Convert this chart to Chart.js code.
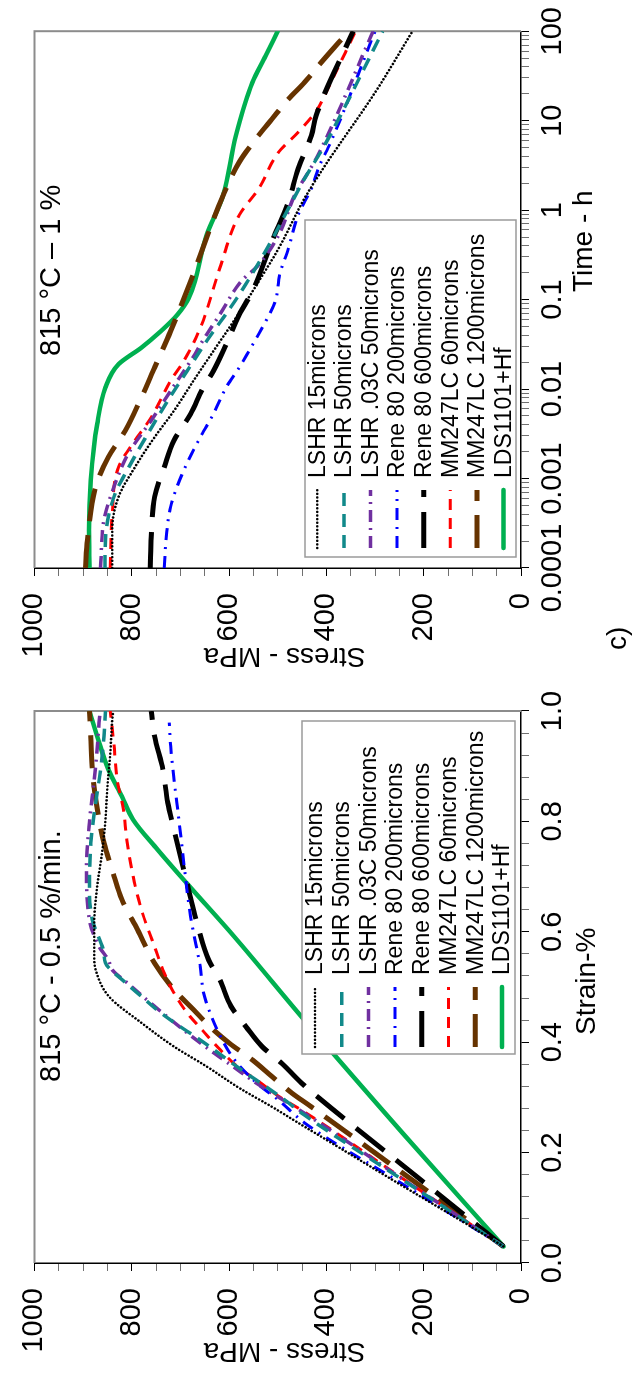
<!DOCTYPE html>
<html>
<head>
<meta charset="utf-8">
<script src="https://cdn.jsdelivr.net/npm/chart.js@4.4.1/dist/chart.umd.min.js"></script>
<style>
    html, body { margin: 0; padding: 0; background: #fff; overflow: hidden; }
    /* a figura inteira fica deitada (girada 90 graus para a esquerda) */
    #figura { position: absolute; left: 0; top: 0; width: 1374px; height: 638px;
              transform-origin: 0 0; transform: translateY(1374px) rotate(-90deg); background: #fff; }
    #figura canvas { position: absolute; top: 0; }
</style>
</head>
<body>
<div id="figura">
    <canvas id="GraficoDeformacao" width="700" height="638" style="left:0px"></canvas>
    <canvas id="GraficoTempo" width="674" height="638" style="left:700px"></canvas>
</div>
<script>

var nomesSeries = ['LSHR 15microns', 'LSHR 50microns', 'LSHR .03C 50microns', 'Rene 80 200microns',
    'Rene 80 600microns', 'MM247LC 60microns', 'MM247LC 1200microns', 'LDS1101+Hf'];

var rotulosDeformacao = ['0.0', '0.2', '0.4', '0.6', '0.8', '1.0'];
var rotulosTensao = ['0', '200', '400', '600', '800', '1000'];
var rotulosTempo = ['0.0001', '0.001', '0.01', '0.1', '1', '10', '100'];

// tracao a 815 C - deformacao (%) x tensao (MPa)
var defLSHR15 = [0.03, 0.075, 0.142, 0.229, 0.247, 0.283, 0.317, 0.356, 0.392, 0.435, 0.483, 0.531, 0.555, 0.616, 0.682, 0.743, 0.803, 0.863, 0.924, 0.984, 1.0];
var tenLSHR15 = [36, 120, 248, 411, 445, 512, 579, 646, 713, 780, 847, 874, 877, 877, 871, 861, 854, 850, 844, 840, 838];
var defLSHR50 = [0.03, 0.15, 0.268, 0.295, 0.320, 0.344, 0.374, 0.404, 0.428, 0.453, 0.483, 0.508, 0.544, 0.562, 0.622, 0.682, 0.761, 0.816, 0.894, 0.954, 1.0];
var tenLSHR50 = [36, 242, 445, 485, 525, 565, 612, 659, 700, 740, 780, 813, 854, 857, 881, 887, 884, 877, 864, 857, 854];
var defLSHR03C = [0.03, 0.15, 0.268, 0.323, 0.356, 0.381, 0.417, 0.465, 0.508, 0.531, 0.549, 0.573, 0.622, 0.712, 0.798, 0.845, 0.912, 0.979, 1.0];
var tenLSHR03C = [36, 240, 439, 539, 592, 632, 686, 753, 810, 840, 848, 867, 887, 893, 887, 881, 873, 867, 865];
var defRene200 = [0.03, 0.15, 0.254, 0.295, 0.323, 0.365, 0.401, 0.453, 0.492, 0.537, 0.555, 0.628, 0.725, 0.803, 0.876, 0.936, 0.979];
var tenRene200 = [36, 256, 445, 498, 539, 586, 612, 639, 653, 659, 663, 679, 693, 703, 713, 720, 723];
var defRene600 = [0.03, 0.15, 0.301, 0.326, 0.362, 0.392, 0.428, 0.465, 0.513, 0.549, 0.616, 0.676, 0.737, 0.785, 0.834, 0.894, 0.954, 1.0];
var tenRene600 = [36, 205, 418, 451, 492, 532, 565, 596, 619, 642, 666, 683, 700, 713, 726, 736, 753, 760];
var defMM60 = [0.03, 0.15, 0.277, 0.302, 0.329, 0.353, 0.387, 0.420, 0.453, 0.489, 0.525, 0.573, 0.640, 0.700, 0.767, 0.821, 0.876, 0.943, 1.0];
var tenMM60 = [36, 238, 451, 498, 539, 579, 619, 653, 686, 713, 733, 753, 780, 797, 810, 817, 830, 837, 844];
var defMM1200 = [0.03, 0.15, 0.283, 0.308, 0.338, 0.368, 0.398, 0.428, 0.459, 0.495, 0.543, 0.604, 0.658, 0.712, 0.761, 0.834, 0.894, 0.954, 1.0];
var tenMM1200 = [36, 223, 431, 471, 512, 552, 599, 639, 673, 713, 753, 788, 820, 840, 857, 873, 881, 884, 887];
var defLDS = [0.03, 0.233, 0.440, 0.592, 0.689, 0.749, 0.803, 0.845, 0.894, 0.943, 1.0];
var tenLDS = [36, 241, 445, 590, 688, 747, 797, 820, 848, 867, 887];

// relaxacao a 815 C - tempo (h) x tensao (MPa)
var tempoLSHR15 = [0.0001, 0.00027, 0.000625, 0.00135, 0.0029, 0.00574, 0.0124, 0.0267, 0.0625, 0.16, 0.374, 1.35, 3.44, 5.74, 20.6, 100];
var relLSHR15 = [840, 840, 827, 793, 753, 713, 673, 632, 586, 539, 498, 445, 398, 370, 300, 223];
var tempoLSHR50 = [0.0001, 0.000245, 0.00068, 0.00114, 0.00316, 0.00741, 0.016, 0.0344, 0.0625, 0.114, 0.408, 1.04, 2.24, 5.27, 100];
var relLSHR50 = [855, 853, 834, 813, 767, 726, 686, 646, 612, 579, 518, 478, 445, 404, 284];
var tempoLSHR03C = [0.0001, 0.000344, 0.00088, 0.0019, 0.00445, 0.00957, 0.0206, 0.0408, 0.068, 0.16, 0.245, 0.527, 1.47, 3.44, 5.74, 100];
var relLSHR03C = [864, 857, 834, 807, 760, 720, 679, 646, 619, 575, 539, 498, 465, 425, 404, 304];
var tempoRene200 = [0.0001, 0.00019, 0.000483, 0.00124, 0.0029, 0.00527, 0.0104, 0.0174, 0.0267, 0.0483, 0.0957, 0.19, 0.374, 0.88, 1.74, 3.16, 5.74, 100];
var relRene200 = [733, 730, 720, 693, 659, 632, 606, 579, 559, 532, 505, 496, 478, 458, 431, 414, 391, 300];
var tempoRene600 = [0.0001, 0.000224, 0.000625, 0.00135, 0.00267, 0.00527, 0.0104, 0.016, 0.0316, 0.068, 0.124, 0.445, 1.24, 2.9, 6.8, 11.4, 100];
var relRene600 = [762, 760, 753, 733, 713, 679, 653, 632, 606, 579, 552, 512, 478, 458, 431, 421, 345];
var tempoMM60 = [0.0001, 0.000408, 0.00135, 0.00267, 0.00483, 0.0124, 0.0206, 0.0483, 0.224, 0.88, 1.74, 4.45, 7.41, 13.5, 19.0, 100];
var relMM60 = [844, 840, 827, 793, 760, 720, 693, 659, 619, 579, 539, 498, 458, 418, 404, 340];
var tempoMM1200 = [0.0001, 0.000206, 0.000807, 0.00174, 0.00344, 0.00807, 0.0174, 0.0445, 0.16, 0.316, 1.47, 3.44, 6.25, 10.4, 17.4, 26.7, 44.5, 100];
var relMM1200 = [895, 891, 874, 848, 813, 780, 753, 720, 679, 659, 612, 579, 545, 512, 478, 445, 411, 354];
var tempoLDS = [0.0001, 0.000267, 0.000957, 0.00408, 0.0104, 0.019, 0.029, 0.0445, 0.068, 0.104, 0.527, 1.47, 6.8, 26.7, 52.7, 100];
var relLDS = [887, 888, 884, 871, 854, 827, 780, 740, 706, 683, 646, 612, 586, 552, 525, 500];

// estilo de cada serie, na mesma ordem dos nomes
var estilos = [
    { cor: '#000000', largura: 2.6, traco: [0.01, 3.6], ponta: 'round' },
    { cor: '#11898a', largura: 3.5, traco: [13, 8], ponta: 'butt' },
    { cor: '#7030a0', largura: 3.5, traco: [12, 6, 2, 6], ponta: 'butt' },
    { cor: '#0000ff', largura: 3, traco: [12, 7, 2, 7], ponta: 'butt' },
    { cor: '#000000', largura: 5, traco: [36, 15], ponta: 'butt' },
    { cor: '#ff0000', largura: 3, traco: [11, 8], ponta: 'butt' },
    { cor: '#663300', largura: 5, traco: [33, 14], ponta: 'butt' },
    { cor: '#00b050', largura: 4.5, traco: [], ponta: 'round' }
];

var fonteTexto = '"Liberation Sans", Arial, sans-serif';
var fonteEixo = '"Liberation Sans Narrow", "Liberation Sans", Arial, sans-serif';


function MontarPontos(xs, ys) {
    return xs.map(function (x, i) { return { x: x, y: ys[i] }; });
}

function MontarDatasets(pares) {
    return pares.map(function (par, i) {
        var e = estilos[i];
        return {
            label: nomesSeries[i],
            data: MontarPontos(par[0], par[1]),
            borderColor: e.cor,
            borderWidth: e.largura,
            borderDash: e.traco,
            borderCapStyle: e.ponta,
            borderJoinStyle: 'round',
            pointRadius: 0,
            fill: false,
            cubicInterpolationMode: 'monotone'
        };
    });
}

// marcas lineares: maiores a cada 'cada' passos
function MarcasLineares(max, passo, cada) {
    var marcas = [];
    for (var i = 0; i * passo <= max + 1e-9; i++) {
        marcas.push({ value: +(i * passo).toFixed(6), major: i % cada === 0 });
    }
    return marcas;
}

// marcas logaritmicas de 0.0001 a 100 (1..9 em cada decada)
function MarcasLog() {
    var marcas = [];
    for (var e = -4; e <= 2; e++) {
        for (var k = 1; k <= 9; k++) {
            if (e === 2 && k > 1) break;
            marcas.push({ value: k * Math.pow(10, e), major: k === 1 });
        }
    }
    return marcas;
}

function CorMarca(ctx) {
    return ctx.tick && ctx.tick.major ? '#000000' : '#707070';
}

function EixoTensao(larguraEixo) {
    return {
        type: 'linear', min: 0, max: 1000,
        afterFit: function (s) { s.width = larguraEixo; },
        afterBuildTicks: function (s) { s.ticks = MarcasLineares(1000, 50, 4); },
        ticks: {
            autoSkip: false, padding: 17, color: '#000',
            font: { family: fonteEixo, size: 29 },
            callback: function (v, i, marcas) { return marcas[i].major ? rotulosTensao[i / 4] : ''; }
        },
        grid: { drawOnChartArea: false, drawTicks: true, tickLength: 8, tickWidth: 1, tickColor: CorMarca },
        border: { color: '#000', width: 1.5 }
    };
}

// moldura cinza em cima e a direita da area do grafico
function PluginMoldura() {
    return {
        id: 'moldura',
        beforeDatasetsDraw: function (chart) {
            var a = chart.chartArea, ctx = chart.ctx;
            ctx.save();
            ctx.strokeStyle = '#8c8c8c';
            ctx.lineWidth = 2;
            ctx.beginPath();
            ctx.moveTo(a.left, a.top);
            ctx.lineTo(a.right, a.top);
            ctx.lineTo(a.right, a.bottom);
            ctx.stroke();
            ctx.restore();
        }
    };
}

// legenda em caixa dentro do grafico
function PluginLegenda(cfg) {
    return {
        id: 'legendaCaixa',
        afterDatasetsDraw: function (chart) {
            var ctx = chart.ctx;
            ctx.save();
            ctx.fillStyle = '#ffffff';
            ctx.fillRect(cfg.x, cfg.y, cfg.w, cfg.h);
            ctx.strokeStyle = '#9a9a9a';
            ctx.lineWidth = 1.5;
            ctx.strokeRect(cfg.x, cfg.y, cfg.w, cfg.h);
            chart.data.datasets.forEach(function (ds, i) {
                var y = cfg.linha0 + i * cfg.passo;
                ctx.strokeStyle = ds.borderColor;
                ctx.lineWidth = ds.borderWidth;
                ctx.lineCap = ds.borderCapStyle;
                ctx.setLineDash(ds.borderDash);
                ctx.beginPath();
                ctx.moveTo(cfg.amostraIni, y);
                ctx.lineTo(cfg.amostraFim, y);
                ctx.stroke();
                ctx.setLineDash([]);
                ctx.fillStyle = '#000';
                ctx.font = '23px ' + fonteTexto;
                ctx.textAlign = 'left';
                ctx.textBaseline = 'middle';
                ctx.fillText(ds.label, cfg.texto, y + 1);
            });
            ctx.restore();
        }
    };
}

// textos soltos: titulos dos eixos e condicoes do ensaio
function PluginTextos(itens) {
    return {
        id: 'textos',
        afterDraw: function (chart) {
            var ctx = chart.ctx;
            itens.forEach(function (t) {
                ctx.save();
                ctx.fillStyle = '#000';
                ctx.font = t.tamanho + 'px ' + fonteTexto;
                ctx.translate(t.x, t.y);
                if (t.girar) {
                    ctx.rotate(-Math.PI / 2);
                    ctx.textAlign = 'center';
                    ctx.textBaseline = 'middle';
                } else {
                    ctx.textAlign = 'left';
                    ctx.textBaseline = 'alphabetic';
                }
                ctx.fillText(t.texto, 0, 0);
                ctx.restore();
            });
        }
    };
}


var ctxDef = document.getElementById('GraficoDeformacao').getContext('2d');

var graficoDeformacao = new Chart(ctxDef, {
    type: 'line',
    data: {
        datasets: MontarDatasets([
            [defLSHR15, tenLSHR15], [defLSHR50, tenLSHR50], [defLSHR03C, tenLSHR03C], [defRene200, tenRene200],
            [defRene600, tenRene600], [defMM60, tenMM60], [defMM1200, tenMM1200], [defLDS, tenLDS]
        ])
    },
    options: {
        responsive: false,
        animation: false,
        devicePixelRatio: 1,
        layout: { padding: { left: 0, top: 24, right: 37, bottom: 0 } },
        plugins: { legend: { display: false }, tooltip: { enabled: false } },
        scales: {
            x: {
                type: 'linear', min: 0, max: 1,
                afterFit: function (s) { s.height = 117; },
                afterBuildTicks: function (s) { s.ticks = MarcasLineares(1, 0.04, 5); },
                ticks: {
                    autoSkip: false, maxRotation: 0, minRotation: 0, padding: 7, color: '#000',
                    font: { family: fonteEixo, size: 29 },
                    callback: function (v, i, marcas) { return marcas[i].major ? rotulosDeformacao[i / 5] : ''; }
                },
                grid: { drawOnChartArea: false, drawTicks: true, tickLength: 8, tickWidth: 1, tickColor: CorMarca },
                border: { color: '#000', width: 1.5 }
            },
            y: EixoTensao(111)
        }
    },
    plugins: [
        PluginMoldura(),
        PluginLegenda({ x: 320, y: 302, w: 333, h: 213, linha0: 315, passo: 26.7, amostraIni: 327, amostraFim: 387, texto: 399 }),
        PluginTextos([
            { texto: '815 \u00b0C - 0.5 %/min.', x: 292, y: 60, tamanho: 29 },
            { texto: 'Strain-%', x: 339, y: 595, tamanho: 28 },
            { texto: 'Stress - MPa', x: 23.5, y: 284.5, tamanho: 28, girar: true }
        ])
    ]
});


var ctxTempo = document.getElementById('GraficoTempo').getContext('2d');

var graficoTempo = new Chart(ctxTempo, {
    type: 'line',
    data: {
        datasets: MontarDatasets([
            [tempoLSHR15, relLSHR15], [tempoLSHR50, relLSHR50], [tempoLSHR03C, relLSHR03C], [tempoRene200, relRene200],
            [tempoRene600, relRene600], [tempoMM60, relMM60], [tempoMM1200, relMM1200], [tempoLDS, relLDS]
        ])
    },
    options: {
        responsive: false,
        animation: false,
        devicePixelRatio: 1,
        layout: { padding: { left: 0, top: 24, right: 28, bottom: 0 } },
        plugins: { legend: { display: false }, tooltip: { enabled: false } },
        scales: {
            x: {
                type: 'logarithmic', min: 0.0001, max: 100,
                afterFit: function (s) { s.height = 117; },
                afterBuildTicks: function (s) { s.ticks = MarcasLog(); },
                ticks: {
                    autoSkip: false, maxRotation: 0, minRotation: 0, padding: 7, color: '#000',
                    font: { family: fonteEixo, size: 29 },
                    callback: function (v, i, marcas) {
                        return marcas[i].major ? rotulosTempo[Math.round(Math.log10(marcas[i].value)) + 4] : '';
                    }
                },
                grid: { drawOnChartArea: false, drawTicks: true, tickLength: 8, tickWidth: 1, tickColor: CorMarca },
                border: { color: '#000', width: 1.5 }
            },
            y: EixoTensao(106)
        }
    },
    plugins: [
        PluginMoldura(),
        PluginLegenda({ x: 117, y: 305, w: 337, h: 211, linha0: 317.3, passo: 26.6, amostraIni: 126, amostraFim: 184, texto: 196 }),
        PluginTextos([
            { texto: '815 \u00b0C \u2013 1 %', x: 318, y: 60, tamanho: 29 },
            { texto: 'Time - h', x: 382, y: 592, tamanho: 28 },
            { texto: 'Stress - MPa', x: 18.5, y: 284.5, tamanho: 28, girar: true },
            { texto: 'c)', x: 24, y: 626, tamanho: 28 }
        ])
    ]
});
</script>
</body>
</html>
